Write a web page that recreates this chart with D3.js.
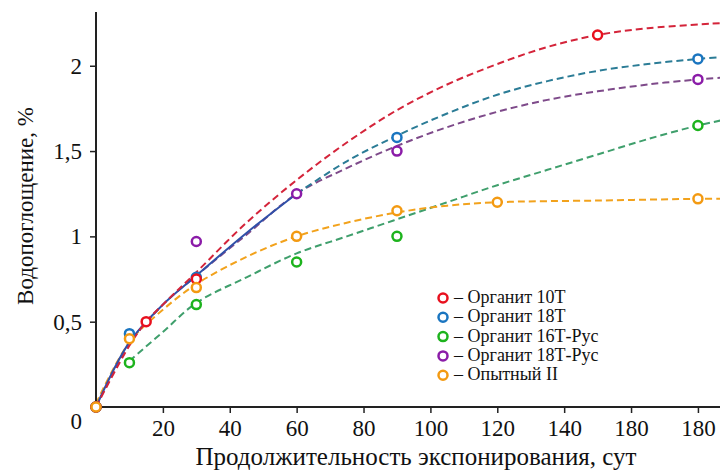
<!DOCTYPE html>
<html>
<head>
<meta charset="utf-8">
<script src="https://cdn.jsdelivr.net/npm/d3@7"></script>
<style>
  html, body { margin: 0; padding: 0; background: #fff; }
  svg { display: block; }
  svg text { font-family: "Liberation Serif", "Times New Roman", Tinos, "DejaVu Serif", "Noto Serif", serif; }
</style>
</head>
<body>
<svg id="chart" width="720" height="471"></svg>
<script>
// x tick values and labels (label "180" appears twice in the original)
const xTicks = [20, 40, 60, 80, 100, 120, 140, 160, 180];
const xTickLabels = ['20', '40', '60', '80', '100', '120', '140', '180', '180'];
const yTicks = [0, 0.5, 1, 1.5, 2];

const seriesNames = ['Органит 10Т', 'Органит 18Т', 'Органит 16Т-Рус', 'Органит 18Т-Рус', 'Опытный II'];

// measured points [days, %]
const ptsRed = [[0, 0], [15, 0.5], [30, 0.75], [150, 2.18]];
const ptsBlue = [[0, 0], [10, 0.43], [30, 0.76], [90, 1.58], [180, 2.04]];
const ptsGreen = [[0, 0], [10, 0.26], [30, 0.6], [60, 0.85], [90, 1.0], [180, 1.65]];
const ptsPurple = [[0, 0], [30, 0.97], [60, 1.25], [90, 1.5], [180, 1.92]];
const ptsOrange = [[0, 0], [10, 0.4], [30, 0.7], [60, 1.0], [90, 1.15], [120, 1.2], [180, 1.22]];

// fitted curves
const fitRed = [[0, 0], [10, 0.36], [15, 0.5], [20, 0.6], [30, 0.79], [45, 1.08], [60, 1.33], [75, 1.55],
  [90, 1.74], [105, 1.89], [120, 2.01], [135, 2.11], [150, 2.18], [165, 2.22], [187, 2.25]];
const fitBlueSolid = [[0, 0], [10, 0.38], [20, 0.6], [30, 0.77], [45, 1.02], [60, 1.25]];
const fitBlue = [[60, 1.25], [75, 1.44], [90, 1.59], [105, 1.72], [120, 1.83], [135, 1.91],
  [150, 1.97], [165, 2.01], [180, 2.04], [187, 2.05]];
const fitPurple = [[0, 0], [10, 0.37], [20, 0.6], [30, 0.77], [45, 1.01], [60, 1.25], [75, 1.4],
  [90, 1.53], [105, 1.64], [120, 1.73], [135, 1.8], [150, 1.85], [165, 1.89], [180, 1.92], [187, 1.93]];
const fitGreen = [[10, 0.27], [20, 0.44], [30, 0.61], [45, 0.76], [60, 0.9], [75, 1.0], [90, 1.1],
  [105, 1.2], [120, 1.3], [135, 1.39], [150, 1.48], [165, 1.57], [180, 1.65], [187, 1.68]];
const fitOrange = [[0, 0.02], [10, 0.38], [20, 0.57], [30, 0.72], [45, 0.88], [60, 1.0], [75, 1.08],
  [90, 1.14], [105, 1.18], [120, 1.2], [150, 1.21], [180, 1.22], [187, 1.22]];

const markerColors = ['#e8101e', '#1a75c0', '#1db31d', '#8b1ca8', '#f39a12'];

const svg = d3.select('#chart');
const x = d3.scaleLinear().domain([0, 186.6]).range([96, 720]);
const y = d3.scaleLinear().domain([0, 2.315]).range([407, 12]);

const line = d3.line()
  .x(d => x(d[0]))
  .y(d => y(d[1]))
  .curve(d3.curveCatmullRom.alpha(0.5));

// curves: dashed fits, blue has a solid start
const curves = [
  { data: fitPurple, color: '#7e4a8a', dash: '7,4' },
  { data: fitGreen, color: '#3f9f6c', dash: '7,4' },
  { data: fitOrange, color: '#f2a21c', dash: '7,4' },
  { data: fitBlue, color: '#2b7c96', dash: '7,4' },
  { data: fitBlueSolid, color: '#3050a8', dash: null },
  { data: fitRed, color: '#d4243a', dash: '7,4' }
];

const curveLayer = svg.append('g').attr('class', 'curves');
curves.forEach(c => {
  curveLayer.append('path')
    .attr('d', line(c.data))
    .attr('fill', 'none')
    .attr('stroke', c.color)
    .attr('stroke-width', 2)
    .attr('stroke-dasharray', c.dash);
});

// axes
const xAxis = d3.axisBottom(x)
  .tickValues(xTicks)
  .tickSize(6)
  .tickFormat((d, i) => xTickLabels[i]);
const gx = svg.append('g').attr('transform', `translate(0,${y(0)})`).call(xAxis);
gx.attr('font-family', null);
gx.select('.domain').attr('d', `M${x(0)},0H720`).attr('stroke', '#222').attr('stroke-width', 2);
gx.selectAll('.tick line').attr('stroke', '#222').attr('stroke-width', 1.5);
gx.selectAll('.tick text')
  .attr('font-size', 23)
  .attr('fill', '#111')
  .attr('y', 13);

const yAxis = d3.axisLeft(y)
  .tickValues(yTicks)
  .tickSize(6)
  .tickFormat(d => String(d).replace('.', ','));
const gy = svg.append('g').attr('transform', `translate(${x(0)},0)`).call(yAxis);
gy.attr('font-family', null);
gy.select('.domain').attr('d', `M0,${y(0)}V12`).attr('stroke', '#222').attr('stroke-width', 2);
gy.selectAll('.tick line').attr('stroke', '#222').attr('stroke-width', 1.5);
gy.selectAll('.tick text')
  .attr('font-size', 23)
  .attr('fill', '#111')
  .attr('x', -14);
// the zero sits below-left of the origin
gy.selectAll('.tick').filter(d => d === 0).select('line').remove();
gy.selectAll('.tick').filter(d => d === 0).select('text').attr('x', -14).attr('dy', '0.95em');

// measured points
const pointSets = [ptsRed, ptsBlue, ptsGreen, ptsPurple, ptsOrange];
const drawOrder = [2, 3, 1, 0, 4];
const ptLayer = svg.append('g').attr('class', 'points');
drawOrder.forEach(i => {
  ptLayer.selectAll(null)
    .data(pointSets[i])
    .enter().append('circle')
    .attr('cx', d => x(d[0]))
    .attr('cy', d => y(d[1]))
    .attr('r', 4.5)
    .attr('fill', '#fff')
    .attr('stroke', markerColors[i])
    .attr('stroke-width', 2.5);
});

// legend
const legend = svg.append('g').attr('transform', 'translate(443,298)');
seriesNames.forEach((name, i) => {
  const row = legend.append('g').attr('transform', `translate(0,${i * 19.3})`);
  row.append('circle')
    .attr('r', 4.5)
    .attr('fill', '#fff')
    .attr('stroke', markerColors[i])
    .attr('stroke-width', 2.5);
  row.append('text')
    .attr('x', 11)
    .attr('y', 5)
    .attr('font-size', 18)
    .attr('fill', '#111')
    .text('– ' + name);
});

// axis titles
svg.append('text')
  .attr('x', 416)
  .attr('y', 465)
  .attr('text-anchor', 'middle')
  .attr('font-size', 25)
  .attr('fill', '#111')
  .text('Продолжительность экспонирования, сут');

svg.append('text')
  .attr('transform', 'translate(33,206) rotate(-90)')
  .attr('text-anchor', 'middle')
  .attr('font-size', 23)
  .attr('fill', '#111')
  .text('Водопоглощение, %');
</script>
</body>
</html>
